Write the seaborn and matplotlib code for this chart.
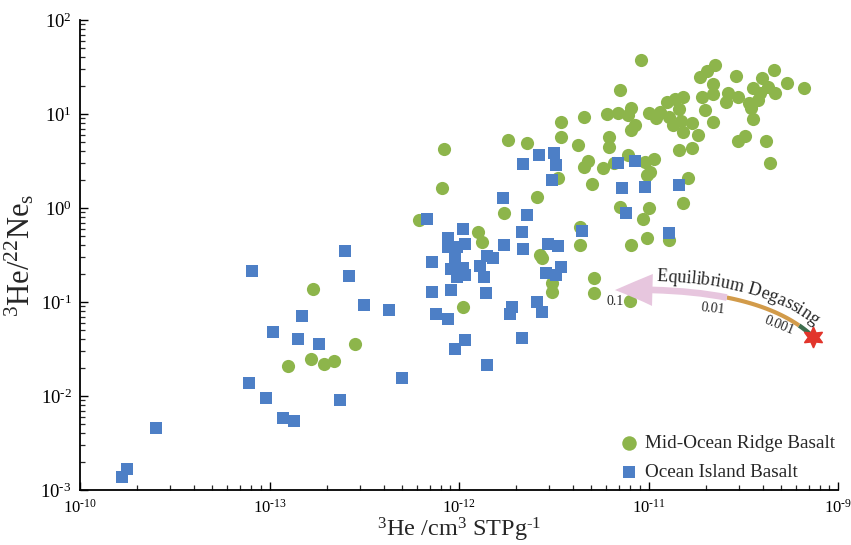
import numpy as np
import pandas as pd
import matplotlib
matplotlib.use("Agg")
import matplotlib.pyplot as plt
from matplotlib.path import Path
from matplotlib.patches import FancyArrowPatch
from matplotlib.ticker import FixedLocator, LogLocator, NullFormatter
import seaborn as sns

sns.set_style("ticks")
plt.rcParams['font.family'] = ['Liberation Serif', 'DejaVu Serif']
plt.rcParams['mathtext.fontset'] = 'custom'
plt.rcParams['mathtext.rm'] = 'Liberation Serif'
plt.rcParams['mathtext.it'] = 'Liberation Serif:italic'

## Data (log10 values) ##
# Mid-Ocean Ridge Basalt
morb_log_he3 = [-12.77, -12.55, -12.90, -12.78, -12.71, -12.66, -11.98, -12.21, -12.09, -12.08,
                -11.90, -11.88, -11.76, -11.59, -11.74, -11.64, -11.48, -11.57, -11.56, -11.51,
                -11.51, -11.29, -11.29, -11.10, -11.36, -11.36, -11.09, -11.01, -10.89, -11.15,
                -11.00, -11.03, -10.82, -10.79, -11.30, -11.24, -11.32, -11.34, -11.37, -11.46,
                -11.46, -11.34, -11.22, -11.16, -11.09, -11.11, -11.07, -11.09, -11.04, -11.15,
                -11.21, -11.21, -11.11, -11.18, -11.02, -10.97, -10.99, -11.01, -11.00, -10.96,
                -10.94, -10.90, -10.86, -10.82, -10.84, -10.89, -10.87, -10.83, -10.82, -10.77,
                -10.74, -10.77, -10.84, -10.66, -10.70, -10.72, -10.66, -10.66, -10.73, -10.69,
                -10.65, -10.54, -10.58, -10.59, -10.53, -10.47, -10.46, -10.45, -10.41, -10.42,
                -10.40, -10.34, -10.37, -10.33, -10.27, -10.18, -10.45, -10.49, -10.53, -10.38,
                -10.36]
morb_log_ratio = [-0.86, -1.45, -1.68, -1.61, -1.66, -1.63, -1.05, -0.13, 0.21, 0.63,
                  -0.26, -0.36, -0.05, 0.12, 0.72, 0.69, 0.32, -0.50, -0.53, -0.80,
                  -0.89, -0.74, -0.90, -0.99, -0.20, -0.39, -0.39, -0.32, -0.34, 0.01,
                  0.00, -0.12, 0.05, 0.32, 0.26, 0.43, 0.50, 0.44, 0.67, 0.76,
                  0.91, 0.97, 1.00, 1.01, 1.06, 0.99, 0.88, 0.83, 1.57, 1.26,
                  0.76, 0.65, 0.56, 0.48, 0.49, 0.52, 0.38, 0.35, 1.01, 0.96,
                  1.02, 1.13, 1.16, 1.18, 1.05, 0.97, 0.88, 0.93, 0.81, 0.90,
                  0.78, 0.64, 0.62, 0.91, 1.04, 1.18, 1.21, 1.32, 1.39, 1.46,
                  1.52, 1.40, 1.22, 1.13, 1.18, 1.12, 1.06, 1.28, 1.22, 1.15,
                  1.38, 1.47, 1.29, 1.22, 1.33, 1.28, 0.95, 0.77, 0.71, 0.71,
                  0.48]

# Ocean Island Basalt
oib_log_he3 = [-13.78, -13.75, -13.60, -13.09, -13.11, -13.02, -12.93, -12.87, -12.83, -12.98,
               -12.85, -12.74, -12.63, -12.60, -12.58, -12.50, -12.37, -12.30, -12.17, -11.98,
               -12.06, -11.97, -12.06, -12.01, -11.76, -11.67, -11.66, -11.53, -11.48, -11.35,
               -12.14, -12.02, -11.85, -11.82, -12.04, -11.98, -11.97, -12.01, -11.89, -11.87,
               -11.54, -11.49, -11.46, -12.14, -12.04, -11.86, -12.12, -12.06, -11.72, -11.73,
               -11.59, -11.56, -11.97, -12.02, -11.67, -11.85, -11.66, -11.58, -11.50, -11.49,
               -11.51, -11.77, -11.64, -11.16, -11.07, -11.14, -11.02, -11.12, -10.89, -10.84]
oib_log_ratio = [-2.86, -2.78, -2.34, -0.67, -1.86, -2.02, -2.23, -2.27, -1.15, -1.32,
                 -1.39, -1.45, -2.04, -0.46, -0.72, -1.03, -1.09, -1.81, -0.12, -0.22,
                 -0.32, -0.38, -0.41, -0.41, -0.39, -0.26, -0.44, -0.38, -0.40, -0.24,
                 -0.57, -0.53, -0.51, -0.53, -0.65, -0.64, -0.71, -0.73, -0.62, -0.73,
                 -0.69, -0.71, -0.63, -0.89, -0.87, -0.90, -1.13, -1.18, -1.05, -1.13,
                 -1.00, -1.11, -1.40, -1.50, -1.38, -1.67, 0.47, 0.56, 0.59, 0.46,
                 0.30, 0.11, -0.07, 0.48, 0.50, 0.21, 0.22, -0.05, -0.27, 0.24]

# degassing path: start composition (star), curve control and arrow tip
star_he3, star_ratio = 7.4e-11, 0.0425
ctrl_he3, ctrl_ratio = 3.87e-11, 0.148
tip_he3, tip_ratio = 6.65e-12, 0.134
path_labels = ['0.1', '0.01', '0.001']

hy = '\u2010'
x_ticks = [1e-14, 1e-13, 1e-12, 1e-11, 1e-10]
x_tick_labels = ['10$^{%s10}$' % hy, '10$^{%s13}$' % hy, '10$^{%s12}$' % hy,
                 '10$^{%s11}$' % hy, '10$^{%s9}$' % hy]
y_ticks = [1e-3, 1e-2, 1e-1, 1e0, 1e1, 1e2]
y_tick_labels = ['10$^{%s3}$' % hy, '10$^{%s2}$' % hy, '10$^{%s1}$' % hy,
                 '10$^{0}$', '10$^{1}$', '10$^{2}$']

df_morb = pd.DataFrame({'he3': np.power(10.0, morb_log_he3), 'ratio': np.power(10.0, morb_log_ratio)})
df_oib = pd.DataFrame({'he3': np.power(10.0, oib_log_he3), 'ratio': np.power(10.0, oib_log_ratio)})

green = '#8DB54B'
blue = '#4D7FC6'

## Plot ##
fig = plt.figure(figsize=(8.51, 5.45), dpi=100)
ax = fig.add_axes([80/851, 55/545, 758/851, 470/545])

sns.scatterplot(data=df_morb, x='he3', y='ratio', marker='o', s=90, color=green,
                linewidth=0, ax=ax, label='Mid-Ocean Ridge Basalt', zorder=3)
sns.scatterplot(data=df_oib, x='he3', y='ratio', marker='s', s=64, color=blue,
                linewidth=0, ax=ax, label='Ocean Island Basalt', zorder=4)

ax.set_xscale('log')
ax.set_yscale('log')
ax.set_xlim(1e-14, 1e-10)
ax.set_ylim(1e-3, 1e2)

ax.xaxis.set_major_locator(FixedLocator(x_ticks))
ax.set_xticklabels(x_tick_labels)
ax.yaxis.set_major_locator(FixedLocator(y_ticks))
ax.set_yticklabels(y_tick_labels)
for axis in [ax.xaxis, ax.yaxis]:
    axis.set_minor_locator(LogLocator(base=10, subs=np.arange(2, 10), numticks=20))
    axis.set_minor_formatter(NullFormatter())
ax.tick_params(which='major', direction='in', length=6, width=1, colors='black', pad=6)
ax.tick_params(axis='x', which='major', labelsize=12)
ax.tick_params(axis='y', which='major', labelsize=13.5)
ax.tick_params(which='minor', direction='in', length=3.5, width=0.9)
sns.despine(ax=ax)
for sp in ['left', 'bottom']:
    ax.spines[sp].set_linewidth(1.3)
    ax.spines[sp].set_color('black')

ax.set_xlabel(r'$^{3}$He /cm$^{3}$ STPg$^{%s1}$' % hy, fontsize=17.5)
ax.set_ylabel(r'$^{3}$He/$^{22}$Ne$_{\mathrm{s}}$', fontsize=22)
ax.xaxis.set_label_coords(0.5, -0.055)
ax.yaxis.set_label_coords(-0.058, 0.5)

ax.legend(loc='upper left', bbox_to_anchor=(0.711, 0.118), frameon=False, fontsize=13.8,
          handlelength=1.0, handletextpad=0.35, labelspacing=0.6, borderpad=0,
          borderaxespad=0, markerscale=1.1)

## Degassing curve ##
P0 = ax.transData.transform((star_he3, star_ratio))
P1 = ax.transData.transform((ctrl_he3, ctrl_ratio))
P2 = ax.transData.transform((tip_he3, tip_ratio))
to_axes = ax.transAxes.inverted()

def bez(t, a, b, c):
    t = np.atleast_1d(t)[:, None]
    return (1-t)**2*a + 2*(1-t)*t*b + t**2*c

t_b1, t_b2 = 0.12, 0.55
seg = to_axes.transform(bez(np.linspace(0, t_b1, 30), P0, P1, P2))
ax.plot(seg[:, 0], seg[:, 1], color='#3E6E4E', lw=3.2, transform=ax.transAxes, clip_on=False,
        solid_capstyle='butt', zorder=5)
seg = to_axes.transform(bez(np.linspace(t_b1, t_b2, 60), P0, P1, P2))
ax.plot(seg[:, 0], seg[:, 1], color='#D29B4A', lw=3.0, transform=ax.transAxes, clip_on=False,
        solid_capstyle='butt', zorder=5)

A = bez(t_b2, P0, P1, P2)[0]
C = P1 + t_b2*(P2 - P1)
pink_path = Path(to_axes.transform(np.array([A, C, P2])), [Path.MOVETO, Path.CURVE3, Path.CURVE3])
arrow = FancyArrowPatch(path=pink_path, arrowstyle='simple,head_length=27,head_width=23,tail_width=4.8',
                        mutation_scale=1, color='#E7C6DE', lw=0, transform=ax.transAxes,
                        clip_on=False, zorder=5)
ax.add_patch(arrow)

ax.plot([star_he3], [star_ratio], marker=(6, 1, 0), markersize=15, color='#E2352B',
        linestyle='none', zorder=6, clip_on=False)

# labels on the curve
ax.annotate(path_labels[0], xy=to_axes.transform(P2), xycoords='axes fraction', xytext=(0, -11),
            textcoords='offset pixels', fontsize=10, ha='center', va='center')
ax.annotate(path_labels[1], xy=to_axes.transform(A), xycoords='axes fraction', xytext=(-14, -11),
            textcoords='offset pixels', fontsize=10, ha='center', va='center', rotation=-6)
B1 = bez(t_b1, P0, P1, P2)[0]
ax.annotate(path_labels[2], xy=to_axes.transform(B1), xycoords='axes fraction', xytext=(-20, 0),
            textcoords='offset pixels', fontsize=10, ha='center', va='center', rotation=-22)

# curved label
label = 'Equilibrium Degassing'
fs = 13
renderer = fig.canvas.get_renderer()
def text_w(s):
    tt = ax.text(0, 0, s, fontsize=fs)
    w = tt.get_window_extent(renderer).width
    tt.remove()
    return w

ts = np.linspace(0, 1, 800)
curve = bez(ts, P2, P1, P0)
d = np.gradient(curve, axis=0)
tang = d/np.linalg.norm(d, axis=1)[:, None]
normal = np.stack([-tang[:, 1], tang[:, 0]], axis=1)
off = curve + normal*9
s = np.concatenate([[0], np.cumsum(np.linalg.norm(np.diff(off, axis=0), axis=1))])
s_start = np.interp(0.15, ts, s)
for i, ch in enumerate(label):
    if ch == ' ':
        continue
    wc = text_w(ch)
    pos = s_start + text_w(label[:i+1]) - wc/2
    j = min(np.searchsorted(s, pos), len(s)-1)
    xy = to_axes.transform(off[j])
    ang = np.degrees(np.arctan2(tang[j, 1], tang[j, 0]))
    ax.text(xy[0], xy[1], ch, fontsize=fs, transform=ax.transAxes, rotation=ang,
            rotation_mode='anchor', ha='center', va='baseline', zorder=6)

fig.savefig('out.png', dpi=100)
